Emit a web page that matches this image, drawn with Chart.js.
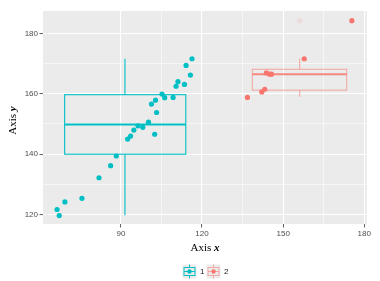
<!DOCTYPE html>
<html>
<head>
<meta charset="utf-8">
<script src="https://cdn.jsdelivr.net/npm/chart.js@4.4.1/dist/chart.umd.min.js"></script>
<style>
  html, body { margin: 0; padding: 0; background: #fff; }
</style>
</head>
<body>
<canvas id="chart" width="380" height="281"></canvas>
<script>
// group labels + colours
const groupLabels = ["1", "2"]
const teal = "#00BFC4"
const salmon = "#F8766D"

// points
const group1X = [116.3, 114.1, 115.7, 113.5, 110.4, 111.1, 105.2, 106.2, 109.3, 102.8, 101.3, 103.2, 100.2,
  98.1, 96.3, 94.8, 93.6, 92.5, 102.5, 88.3, 86.2, 81.9, 75.6, 69.3, 66.4, 67.2]
const group1Y = [171.6, 169.4, 166.2, 163.1, 162.5, 164.0, 159.9, 158.7, 158.8, 157.9, 156.6, 153.8, 150.6,
  148.9, 149.4, 148.0, 146.0, 145.0, 146.6, 139.4, 136.2, 132.2, 125.4, 124.2, 121.7, 119.7]
const group2X = [175.4, 157.8, 143.8, 145.0, 145.7, 143.2, 142.1, 136.8]
const group2Y = [184.2, 171.6, 166.9, 166.5, 166.5, 161.5, 160.6, 158.8]

// box summaries: [xmin, xmid, xmax, lower, q1, median, q3, upper]
const box1 = [69.2, 91.5, 114.0, 119.8, 140.0, 149.8, 159.7, 171.6]
const box2 = [138.6, 156.1, 173.5, 159.0, 161.2, 166.5, 168.1, 171.7]
const box2OutlierX = [156.1]
const box2OutlierY = [184.2]

// axes
const xTicks = [90, 105, 120, 135, 150, 165, 180]
const xMajor = [90, 120, 150, 180]
const yTicks = [120, 130, 140, 150, 160, 170, 180]
const yMajor = [120, 140, 160, 180]

const toPoints = (xs, ys) => xs.map((x, i) => ({ x: x, y: ys[i] }))

const panelBg = {
  id: "panelBg",
  beforeDraw(chart) {
    const { ctx, chartArea: { left, top, width, height } } = chart
    ctx.save()
    ctx.fillStyle = "#EBEBEB"
    ctx.fillRect(left, top, width, height)
    ctx.restore()
  }
}

function drawBox(chart, b, stroke, medianStroke) {
  const { ctx, scales: { x, y } } = chart
  const x0 = x.getPixelForValue(b[0]), xm = x.getPixelForValue(b[1]), x1 = x.getPixelForValue(b[2])
  const yLo = y.getPixelForValue(b[3]), yQ1 = y.getPixelForValue(b[4]), yMed = y.getPixelForValue(b[5])
  const yQ3 = y.getPixelForValue(b[6]), yHi = y.getPixelForValue(b[7])
  ctx.save()
  ctx.strokeStyle = stroke
  ctx.lineWidth = 1.1
  ctx.beginPath()
  ctx.moveTo(xm, yHi); ctx.lineTo(xm, yQ3)
  ctx.moveTo(xm, yQ1); ctx.lineTo(xm, yLo)
  ctx.stroke()
  ctx.strokeRect(x0, yQ3, x1 - x0, yQ1 - yQ3)
  ctx.strokeStyle = medianStroke
  ctx.lineWidth = 2
  ctx.beginPath()
  ctx.moveTo(x0, yMed); ctx.lineTo(x1, yMed)
  ctx.stroke()
  ctx.restore()
}

const boxes = {
  id: "boxes",
  beforeDatasetsDraw(chart) {
    drawBox(chart, box1, teal, teal)
    drawBox(chart, box2, "rgba(248,118,109,0.55)", "rgba(248,118,109,0.85)")
  }
}

// axis titles + legend (mixed fonts, so drawn by hand)
const extras = {
  id: "extras",
  afterDraw(chart) {
    const { ctx, chartArea: { left, right, top, bottom } } = chart
    ctx.save()
    ctx.fillStyle = "#000"
    ctx.textBaseline = "middle"
    const plain = "11px 'Liberation Serif'"
    const ital = "italic bold 11px 'Liberation Serif'"

    ctx.font = plain
    const w1 = ctx.measureText("Axis ").width
    ctx.font = ital
    const w2 = ctx.measureText("x").width
    let sx = (left + right) / 2 - (w1 + w2) / 2
    ctx.textAlign = "left"
    ctx.font = plain
    ctx.fillText("Axis ", sx, 248)
    ctx.font = ital
    ctx.fillText("x", sx + w1, 248)

    ctx.translate(13, (top + bottom) / 2 + 3)
    ctx.rotate(-Math.PI / 2)
    ctx.font = plain
    const h1 = ctx.measureText("Axis ").width
    ctx.font = ital
    const h2 = ctx.measureText("y").width
    sx = -(h1 + h2) / 2
    ctx.font = plain
    ctx.fillText("Axis ", sx, 0)
    ctx.font = ital
    ctx.fillText("y", sx + h1, 0)
    ctx.restore()

    // legend
    const keys = [{ x: 182.5, c: teal, box: teal }, { x: 206.5, c: salmon, box: "rgba(248,118,109,0.55)" }]
    ctx.save()
    keys.forEach((k, i) => {
      const ky = 264.5, size = 14
      ctx.fillStyle = "#EBEBEB"
      ctx.fillRect(k.x, ky, size, size)
      const cx = k.x + size / 2, cy = ky + size / 2
      ctx.strokeStyle = k.box
      ctx.lineWidth = 1
      ctx.strokeRect(k.x + 1.5, ky + 3, size - 3, size - 6)
      ctx.beginPath()
      ctx.moveTo(cx, ky); ctx.lineTo(cx, ky + 3)
      ctx.moveTo(cx, ky + size - 3); ctx.lineTo(cx, ky + size)
      ctx.moveTo(k.x + 1.5, cy); ctx.lineTo(k.x + size - 1.5, cy)
      ctx.stroke()
      ctx.fillStyle = k.c
      ctx.beginPath()
      ctx.arc(cx, cy, 2.2, 0, Math.PI * 2)
      ctx.fill()
      ctx.fillStyle = "#1a1a1a"
      ctx.font = "8px 'Liberation Sans'"
      ctx.textAlign = "left"
      ctx.textBaseline = "middle"
      ctx.fillText(groupLabels[i], k.x + size + 3.5, cy + 0.5)
    })
    ctx.restore()
  }
}

const gridOpts = (major) => ({
  color: "#FFFFFF",
  lineWidth: c => (c.tick && major.includes(c.tick.value)) ? 1.1 : 0.55,
  drawTicks: true,
  tickLength: 3.5,
  tickWidth: 0.8,
  tickColor: c => (c.tick && major.includes(c.tick.value)) ? "#333333" : "rgba(0,0,0,0)"
})

const tickFont = { family: "'Liberation Sans'", size: 8 }

new Chart(document.getElementById("chart"), {
  type: "scatter",
  data: {
    datasets: [
      { label: groupLabels[0], data: toPoints(group1X, group1Y), backgroundColor: teal, borderWidth: 0, pointRadius: 2.6 },
      { label: groupLabels[1], data: toPoints(group2X, group2Y), backgroundColor: salmon, borderWidth: 0, pointRadius: 2.6 },
      { label: "outlier", data: toPoints(box2OutlierX, box2OutlierY), backgroundColor: "rgba(248,118,109,0.12)", borderWidth: 0, pointRadius: 2.6 }
    ]
  },
  options: {
    responsive: false,
    animation: false,
    devicePixelRatio: 1,
    layout: { padding: { left: 0, right: 13, top: 11, bottom: 0 } },
    plugins: { legend: { display: false }, tooltip: { enabled: false } },
    scales: {
      x: {
        type: "linear",
        min: 61.2,
        max: 181,
        afterBuildTicks: s => { s.ticks = xTicks.map(v => ({ value: v })) },
        afterFit: s => { s.height = 57 },
        ticks: {
          autoSkip: false, maxRotation: 0, padding: 1.5, color: "#4D4D4D", font: tickFont,
          callback: v => xMajor.includes(v) ? String(v) : ""
        },
        grid: gridOpts(xMajor),
        border: { display: false }
      },
      y: {
        type: "linear",
        min: 116.9,
        max: 187.4,
        afterBuildTicks: s => { s.ticks = yTicks.map(v => ({ value: v })) },
        afterFit: s => { s.width = 43 },
        ticks: {
          autoSkip: false, padding: 1.5, color: "#4D4D4D", font: tickFont,
          callback: v => yMajor.includes(v) ? String(v) : ""
        },
        grid: gridOpts(yMajor),
        border: { display: false }
      }
    }
  },
  plugins: [panelBg, boxes, extras]
})
</script>
</body>
</html>
